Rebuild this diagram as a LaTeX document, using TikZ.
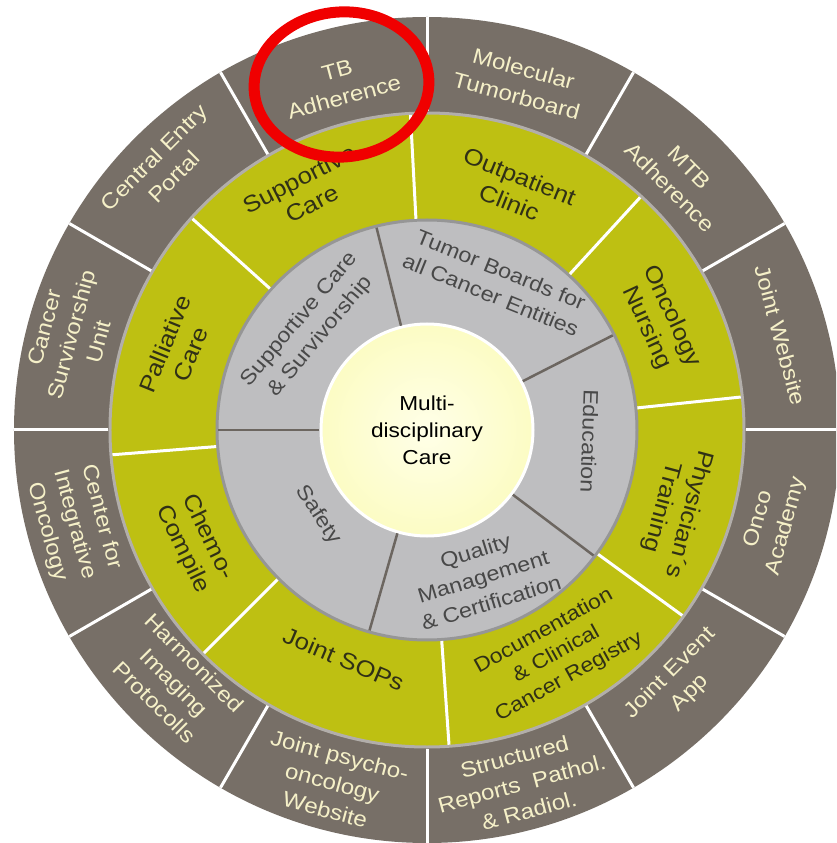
\documentclass[tikz,border=0pt]{standalone}
\usepackage{fontspec}
\setmainfont{Liberation Sans}[FakeStretch=1.12]

\definecolor{ringdark}{RGB}{119,111,103}
\definecolor{ringgreen}{RGB}{190,192,18}
\definecolor{ringgray}{RGB}{190,190,192}
\definecolor{rimlight}{RGB}{178,174,170}
\definecolor{rimgray}{RGB}{150,150,150}
\definecolor{corein}{RGB}{255,255,232}
\definecolor{coreout}{RGB}{252,252,196}
\definecolor{outertxt}{RGB}{245,240,200}
\definecolor{greentxt}{RGB}{48,48,22}
\definecolor{graytxt}{RGB}{72,72,72}
\definecolor{splitgray}{RGB}{108,102,96}
\definecolor{hilite}{RGB}{240,0,0}

\tikzset{
  outerlbl/.style={text=outertxt, align=center, font=\fontsize{21.5}{28}\selectfont},
  greenlbl/.style={text=greentxt, align=center, font=\fontsize{23}{28}\selectfont},
  graylbl/.style={text=graytxt, align=center, font=\fontsize{20.8}{27}\selectfont},
}

\begin{document}
\begin{tikzpicture}[x=1pt, y=1pt]
\useasboundingbox (-427,-413) rectangle (409,430);
\clip (-427,-413) rectangle (409,430);
% rings
\fill[ringdark] (0,0) circle (413);
\filldraw[fill=ringgreen, draw=rimlight, line width=3pt] (0,0) circle (317);
\filldraw[fill=ringgray, draw=rimgray, line width=3pt] (0,0) circle (210);
\shadedraw[inner color=corein, outer color=coreout, draw=white, line width=3pt] (0,0) circle (106);
% separators
\foreach \a in {0,30,...,330}
    \draw[white, line width=3pt] (\a:318.5) -- (\a:413);
\foreach \a in {93,47.5,6,-36,-86,-135,-175.5,138}
    \draw[white, line width=3pt] (\a:211.5) -- (\a:315.5);
\foreach \a in {104,27,-37,-106,180}
    \draw[splitgray, line width=2.5pt] (\a:107.5) -- (\a:208.5);
% outer ring
\node[outerlbl, rotate=15] (tbadh) at (104:357) {TB\\Adherence};
\node[outerlbl, rotate=-15] (moltb) at (75:360) {Molecular\\Tumorboard};
\node[outerlbl, rotate=-45] (mtbadh) at (45:357) {MTB\\Adherence};
\node[outerlbl, rotate=-75] (jweb) at (15:366) {Joint Website};
\node[outerlbl, rotate=75] (oncoac) at (-15:358) {Onco\\Academy};
\node[outerlbl, rotate=45] (jevent) at (-45:358) {Joint Event\\App};
\node[outerlbl, rotate=15] (strrep) at (-75:366) {Structured\\Reports~ Pathol.\\\& Radiol.};
\node[outerlbl, rotate=-15] (jpsy) at (-105:365) {Joint psycho-\\oncology\\Website};
\node[outerlbl, rotate=-45] (harmimg) at (-135:357) {Harmonized\\Imaging\\Protocolls};
\node[outerlbl, rotate=-75] (cio) at (-165:365) {Center for\\Integrative\\Oncology};
\node[outerlbl, rotate=75] (csu) at (165:368) {Cancer\\Survivorship\\Unit};
\node[outerlbl, rotate=45] (cep) at (135:372) {Central Entry\\Portal};
% green ring
\node[greenlbl, rotate=27] (supcare) at (117:268) {Supportive\\Care};
\node[greenlbl, rotate=-22] (outpat) at (70:256) {Outpatient\\Clinic};
\node[greenlbl, rotate=-65] (oncnurs) at (25:256) {Oncology\\Nursing};
\node[greenlbl, rotate=-105] (phystr) at (-18:261) {Physician´s\\Training};
\node[greenlbl, font=\fontsize{20.5}{26}\selectfont, rotate=29] (docreg) at (-60:259) {Documentation\\\& Clinical\\Cancer Registry};
\node[greenlbl, rotate=-23] (jsops) at (-110:244) {Joint SOPs};
\node[greenlbl, rotate=-64] (chemo) at (-154:258) {Chemo-\\Compile};
\node[greenlbl, rotate=68] (palcare) at (162:262) {Palliative\\Care};
% gray ring
\node[graylbl, rotate=50] (supsurv) at (139:155) {Supportive Care\\\& Survivorship};
\node[graylbl, rotate=-22] (tumboards) at (65:163) {Tumor Boards for\\all Cancer Entities};
\node[graylbl, rotate=-92] (edu) at (-4:163) {Education};
\node[graylbl, rotate=17] (qual) at (-69:157) {Quality\\Management\\\& Certification};
\node[graylbl, rotate=-57] (safety) at (-142:138) {Safety};
% centre
\node[align=center, font=\fontsize{20.2}{27}\selectfont] (mdc) at (0,0) {Multi-\\disciplinary\\Care};
% highlight
\draw[hilite, line width=11pt, rotate around={5:(-85.5,345.5)}] (-85.5,345.5) ellipse (87.5 and 72.5);
\end{tikzpicture}
\end{document}
